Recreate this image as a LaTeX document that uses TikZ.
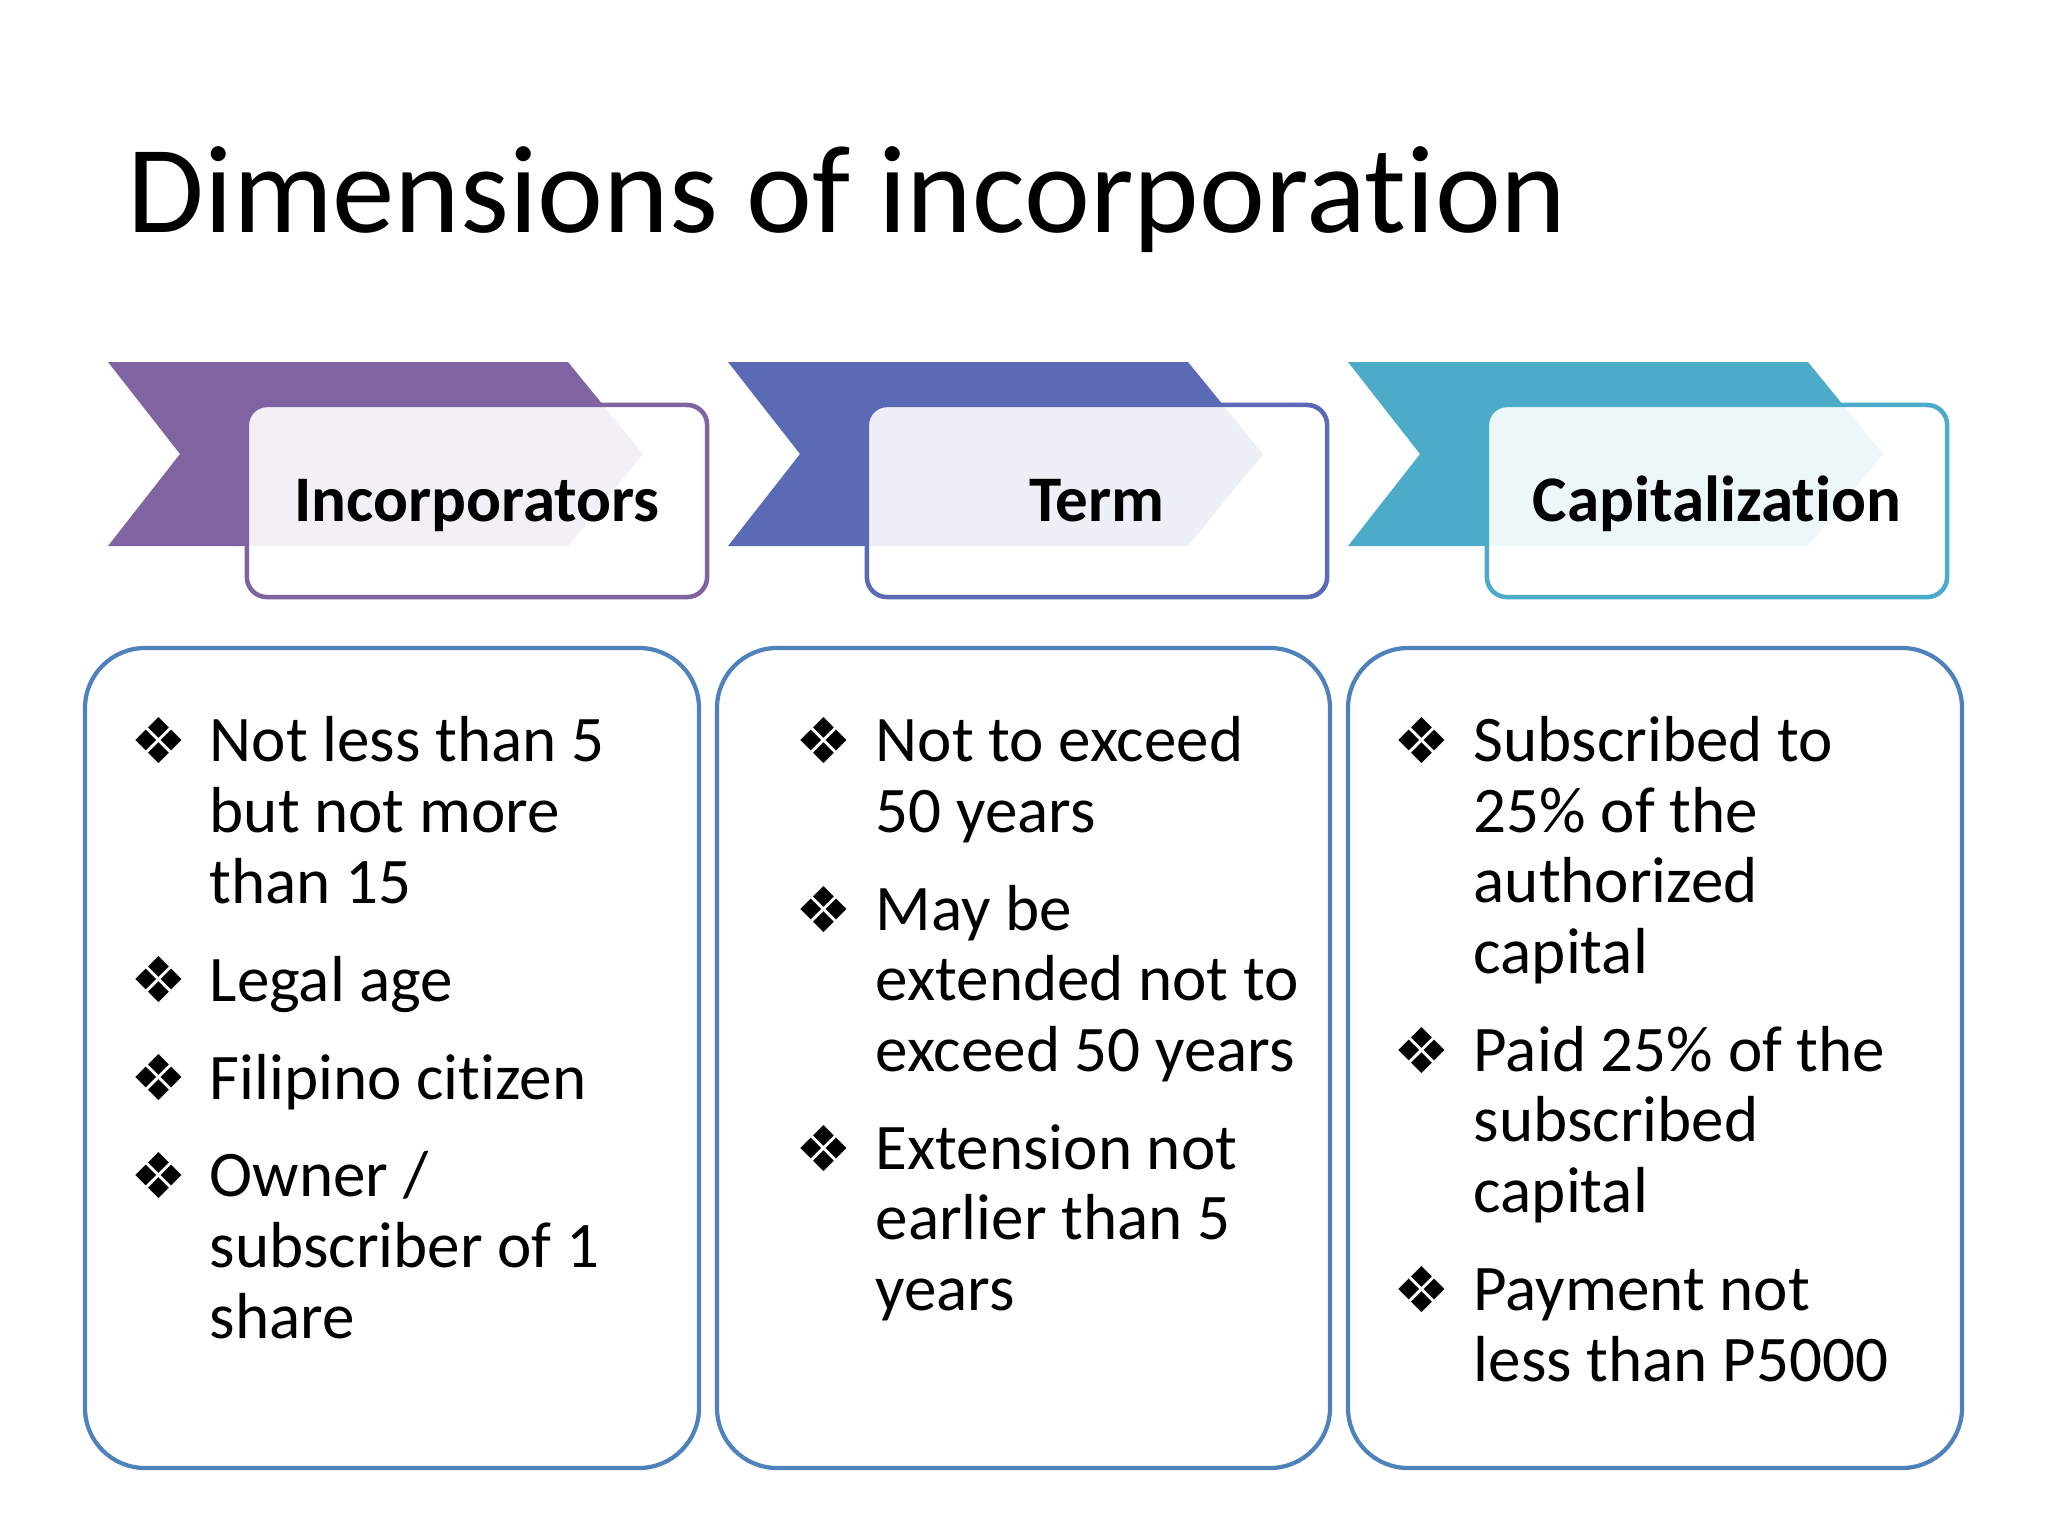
\documentclass[tikz,border=0pt]{standalone}
\usepackage{fontspec}
\setmainfont{Carlito}[Ligatures=NoCommon]
\newfontfamily\bulletfont{DejaVu Sans}
\definecolor{cpurple}{HTML}{8064A2}
\definecolor{cblue}{HTML}{5B6AB5}
\definecolor{cteal}{HTML}{4BABC8}
\definecolor{cbox}{HTML}{4F81BD}
\begin{document}
\begin{tikzpicture}[x=0.01cm,y=-0.01cm,
  hdr/.style={draw=#1, line width=1.3pt, rounded corners=0.2cm, fill=white, fill opacity=0.9, text opacity=1,
    minimum width=4.6cm, minimum height=1.92cm, inner sep=0pt, text height=0.4cm, text depth=0cm,
    font=\fontsize{18.5}{20}\selectfont\bfseries},
  bigbox/.style={draw=cbox, line width=1.2pt, rounded corners=0.6cm, fill=white},
  itemtext/.style={anchor=base west, inner sep=0pt, align=left, font=\fontsize{18.5}{20.06}\selectfont},
  bul/.style={anchor=center, inner sep=0pt, font=\fontsize{18}{20}\bulletfont}]
\path[use as bounding box, fill=white] (0,0) rectangle (2048,1536);

\node[anchor=base west, inner sep=0pt, font=\fontsize{35.5}{40}\selectfont] (title) at (127,232) {Dimensions of incorporation};

% chevrons and header boxes
\fill[cpurple] (108,362) -- (568,362) -- (643,454) -- (568,546) -- (108,546) -- (180,454) -- cycle;
\node[hdr=cpurple] (h1) at (477,501) {Incorporators};
\fill[cblue] (728,362) -- (1188,362) -- (1263,454) -- (1188,546) -- (728,546) -- (800,454) -- cycle;
\node[hdr=cblue] (h2) at (1097,501) {Term};
\fill[cteal] (1348,362) -- (1808,362) -- (1883,454) -- (1808,546) -- (1348,546) -- (1420,454) -- cycle;
\node[hdr=cteal] (h3) at (1717,501) {Capitalization};

% lower boxes
\draw[bigbox] (85,648) rectangle (699,1468);
\draw[bigbox] (717,648) rectangle (1330,1468);
\draw[bigbox] (1348,648) rectangle (1962,1468);

% column 1 (node anchors are at the baseline of the last line)
\node[bul] (b11) at (159,741) {❖};
\node[itemtext] (t11) at (209,903) {Not less than 5\\but not more\\than 15};
\node[bul] (b12) at (159,980) {❖};
\node[itemtext] (t12) at (209,1001) {Legal age};
\node[bul] (b13) at (159,1078) {❖};
\node[itemtext] (t13) at (209,1099) {Filipino citizen};
\node[bul] (b14) at (159,1176) {❖};
\node[itemtext] (t14) at (209,1338) {Owner /\\subscriber of 1\\share};

% column 2
\node[bul] (b21) at (824,741) {❖};
\node[itemtext] (t21) at (875,832.5) {Not to exceed\\50 years};
\node[bul] (b22) at (824,909.5) {❖};
\node[itemtext] (t22) at (875,1071.5) {May be\\extended not to\\exceed 50 years};
\node[bul] (b23) at (824,1148.5) {❖};
\node[itemtext] (t23) at (875,1310.5) {Extension not\\earlier than 5\\years};

% column 3
\node[bul] (b31) at (1422,741) {❖};
\node[itemtext] (t31) at (1473,973.5) {Subscribed to\\25\% of the\\authorized\\capital};
\node[bul] (b32) at (1422,1050.5) {❖};
\node[itemtext] (t32) at (1473,1212.5) {Paid 25\% of the\\subscribed\\capital};
\node[bul] (b33) at (1422,1289.5) {❖};
\node[itemtext] (t33) at (1473,1381) {Payment not\\less than P5000};
\end{tikzpicture}
\end{document}
